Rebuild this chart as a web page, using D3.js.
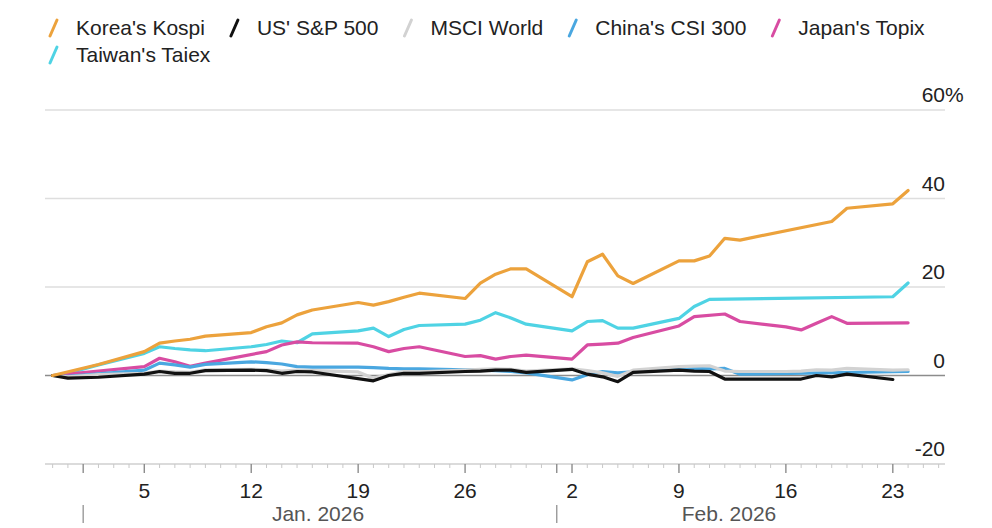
<!DOCTYPE html>
<html>
<head>
<meta charset="utf-8">
<script src="https://cdn.jsdelivr.net/npm/d3@7"></script>
<style>
  body { margin: 0; background: #fff; }
  svg { font-family: "Liberation Sans", Arial, sans-serif; }
  .legend_text { font-size: 21px; fill: #222; }
  .y_label { font-size: 21px; fill: #222; }
  .x_label { font-size: 21px; fill: #222; text-anchor: middle; }
  .month_label { font-size: 21px; fill: #555; text-anchor: middle; }
</style>
</head>
<body>
<div id="chart"></div>
<script>
// series, in legend order
let series_names = ["Korea's Kospi", "US' S&P 500", "MSCI World", "China's CSI 300", "Japan's Topix", "Taiwan's Taiex"];
let series_colors = ["#eca23c", "#111111", "#d2d2d2", "#4aa7e0", "#d84ca2", "#4fd3e4"];

// trading days per market
let kospi_dates = ["2025-12-30","2026-01-02","2026-01-05","2026-01-06","2026-01-07","2026-01-08","2026-01-09",
  "2026-01-12","2026-01-13","2026-01-14","2026-01-15","2026-01-16","2026-01-19","2026-01-20","2026-01-21",
  "2026-01-22","2026-01-23","2026-01-26","2026-01-27","2026-01-28","2026-01-29","2026-01-30","2026-02-02",
  "2026-02-03","2026-02-04","2026-02-05","2026-02-06","2026-02-09","2026-02-10","2026-02-11","2026-02-12",
  "2026-02-13","2026-02-19","2026-02-20","2026-02-23","2026-02-24"];
let kospi_values = [0, 2.5, 5.4, 7.3, 7.8, 8.2, 8.9, 9.7, 11.0, 11.9, 13.7, 14.8, 16.5, 15.9, 16.7,
  17.7, 18.6, 17.4, 20.9, 22.9, 24.1, 24.1, 17.8, 25.7, 27.4, 22.5, 20.8, 25.9, 25.9, 27.0, 31.0,
  30.6, 34.8, 37.8, 38.8, 41.8];

let spx_dates = ["2025-12-30","2025-12-31","2026-01-02","2026-01-05","2026-01-06","2026-01-07","2026-01-08",
  "2026-01-09","2026-01-12","2026-01-13","2026-01-14","2026-01-15","2026-01-16","2026-01-20","2026-01-21",
  "2026-01-22","2026-01-23","2026-01-26","2026-01-27","2026-01-28","2026-01-29","2026-01-30","2026-02-02",
  "2026-02-03","2026-02-04","2026-02-05","2026-02-06","2026-02-09","2026-02-10","2026-02-11","2026-02-12",
  "2026-02-13","2026-02-17","2026-02-18","2026-02-19","2026-02-20","2026-02-23"];
let spx_values = [0, -0.6, -0.4, 0.3, 0.9, 0.5, 0.5, 1.1, 1.2, 1.1, 0.5, 0.9, 0.8, -1.2, 0.0,
  0.5, 0.5, 0.9, 1.0, 1.2, 1.2, 0.7, 1.4, 0.3, -0.3, -1.4, 0.7, 1.2, 1.0, 0.9, -0.8,
  -0.8, -0.8, 0.0, -0.3, 0.3, -0.9];

let msci_dates = ["2025-12-30","2025-12-31","2026-01-02","2026-01-05","2026-01-06","2026-01-07","2026-01-08",
  "2026-01-09","2026-01-12","2026-01-13","2026-01-14","2026-01-15","2026-01-16","2026-01-19","2026-01-20",
  "2026-01-21","2026-01-22","2026-01-23","2026-01-26","2026-01-27","2026-01-28","2026-01-29","2026-01-30",
  "2026-02-02","2026-02-03","2026-02-04","2026-02-05","2026-02-06","2026-02-09","2026-02-10","2026-02-11",
  "2026-02-12","2026-02-13","2026-02-16","2026-02-17","2026-02-18","2026-02-19","2026-02-20","2026-02-23",
  "2026-02-24"];
let msci_values = [0, -0.3, 0.2, 0.5, 1.0, 0.8, 0.7, 1.3, 1.4, 1.3, 1.0, 1.2, 1.1, 0.8, -0.6,
  0.2, 0.9, 0.8, 1.2, 1.4, 1.5, 1.4, 1.0, 1.5, 1.1, 0.6, -0.2, 1.2, 2.0, 2.1, 2.2,
  1.0, 0.9, 0.9, 1.0, 1.3, 1.2, 1.6, 1.2, 1.3];

let csi_dates = ["2025-12-30","2025-12-31","2026-01-05","2026-01-06","2026-01-07","2026-01-08","2026-01-09",
  "2026-01-12","2026-01-13","2026-01-14","2026-01-15","2026-01-16","2026-01-19","2026-01-20","2026-01-21",
  "2026-01-22","2026-01-23","2026-01-26","2026-01-27","2026-01-28","2026-01-29","2026-01-30","2026-02-02",
  "2026-02-03","2026-02-04","2026-02-05","2026-02-06","2026-02-09","2026-02-10","2026-02-11","2026-02-12",
  "2026-02-13","2026-02-24"];
let csi_values = [0, -0.2, 1.2, 2.8, 2.4, 1.9, 2.5, 3.1, 2.9, 2.6, 2.0, 1.9, 1.9, 1.8, 1.6,
  1.5, 1.5, 1.3, 1.2, 1.1, 0.9, 0.6, -1.0, 0.2, 0.9, 0.6, 0.8, 1.6, 1.6, 1.5, 1.6,
  0.3, 0.9];

let topix_dates = ["2025-12-30","2026-01-05","2026-01-06","2026-01-07","2026-01-08","2026-01-09","2026-01-13",
  "2026-01-14","2026-01-15","2026-01-16","2026-01-19","2026-01-20","2026-01-21","2026-01-22","2026-01-23",
  "2026-01-26","2026-01-27","2026-01-28","2026-01-29","2026-01-30","2026-02-02","2026-02-03","2026-02-04",
  "2026-02-05","2026-02-06","2026-02-09","2026-02-10","2026-02-12","2026-02-13","2026-02-16","2026-02-17",
  "2026-02-18","2026-02-19","2026-02-20","2026-02-24"];
let topix_values = [0, 2.0, 3.9, 3.1, 2.1, 2.8, 5.4, 6.9, 7.6, 7.4, 7.3, 6.5, 5.4, 6.1, 6.5,
  4.3, 4.5, 3.7, 4.3, 4.6, 3.7, 6.9, 7.1, 7.3, 8.6, 11.2, 13.3, 13.9, 12.2, 11.0, 10.3,
  11.8, 13.3, 11.8, 11.9];

let taiex_dates = ["2025-12-30","2025-12-31","2026-01-02","2026-01-05","2026-01-06","2026-01-07","2026-01-08",
  "2026-01-09","2026-01-12","2026-01-13","2026-01-14","2026-01-15","2026-01-16","2026-01-19","2026-01-20",
  "2026-01-21","2026-01-22","2026-01-23","2026-01-26","2026-01-27","2026-01-28","2026-01-29","2026-01-30",
  "2026-02-02","2026-02-03","2026-02-04","2026-02-05","2026-02-06","2026-02-09","2026-02-10","2026-02-11",
  "2026-02-23","2026-02-24"];
let taiex_values = [0, 0.5, 2.4, 5.0, 6.5, 6.1, 5.8, 5.6, 6.5, 7.0, 7.8, 7.4, 9.4, 10.1, 10.7,
  8.8, 10.4, 11.3, 11.6, 12.5, 14.2, 13.0, 11.6, 10.1, 12.2, 12.4, 10.7, 10.7, 12.9, 15.6, 17.2,
  17.8, 20.9];

let y_ticks = [60, 40, 20, 0, -20];
let month_starts = ["2026-01-01", "2026-02-01"];
let month_labels = ["Jan. 2026", "Feb. 2026"];

let window_width = 992;
let window_height = 528;

let parse_date = d3.timeParse("%Y-%m-%d");

let all_dates = [kospi_dates, spx_dates, msci_dates, csi_dates, topix_dates, taiex_dates];
let all_values = [kospi_values, spx_values, msci_values, csi_values, topix_values, taiex_values];

function build_series(i) {
    return all_dates[i].map(function(d, j) {
        return {date: parse_date(d), value: all_values[i][j]};
    });
}

let svg = d3.select("#chart").append("svg")
    .attr("width", window_width)
    .attr("height", window_height);

let x = d3.scaleTime()
    .domain([new Date(2025, 11, 29, 12), new Date(2026, 1, 26, 10)])
    .range([45, 945]);

let y = d3.scaleLinear()
    .domain([-20, 60])
    .range([464, 110]);

// gridlines
svg.selectAll(".grid")
    .data(y_ticks.filter(function(t) { return t != -20; }))
    .enter()
    .append("line")
    .attr("x1", 45)
    .attr("x2", 945)
    .attr("y1", function(t) { return y(t); })
    .attr("y2", function(t) { return y(t); })
    .attr("stroke", function(t) { return t == 0 ? "#8c8c8c" : "#dedede"; })
    .attr("stroke-width", function(t) { return t == 0 ? 1.6 : 1.5; });

// numbers end at the right edge of the grid, the % hangs past it
let y_labels = svg.selectAll(".y_label")
    .data(y_ticks)
    .enter()
    .append("g");
y_labels.append("text")
    .classed("y_label", true)
    .attr("text-anchor", "end")
    .attr("x", 945)
    .attr("y", function(t) { return y(t) - 8; })
    .text(function(t) { return t; });
y_labels.filter(function(t) { return t == 60; })
    .append("text")
    .classed("y_label", true)
    .attr("x", 945)
    .attr("y", function(t) { return y(t) - 8; })
    .text("%");

// x axis: daily minor ticks, bigger ticks on mondays and month starts
let x_axis_g = svg.append("g");
x_axis_g.append("line")
    .attr("x1", 45).attr("x2", 945)
    .attr("y1", 464).attr("y2", 464)
    .attr("stroke", "#cfcfcf")
    .attr("stroke-width", 1.5);

let days = d3.timeDay.range(new Date(2025, 11, 30), new Date(2026, 1, 27));
function is_major(d) { return d.getDay() == 1 || d.getDate() == 1; }

x_axis_g.selectAll(".tick")
    .data(days)
    .enter()
    .append("line")
    .attr("x1", function(d) { return x(d); })
    .attr("x2", function(d) { return x(d); })
    .attr("y1", 464)
    .attr("y2", function(d) { return is_major(d) ? 473 : 468; })
    .attr("stroke", function(d) { return is_major(d) ? "#8c8c8c" : "#c8c8c8"; })
    .attr("stroke-width", function(d) { return is_major(d) ? 1.4 : 1; });

x_axis_g.selectAll(".x_label")
    .data(d3.timeMonday.range(new Date(2026, 0, 2), new Date(2026, 1, 26)))
    .enter()
    .append("text")
    .classed("x_label", true)
    .attr("x", function(d) { return x(d); })
    .attr("y", 498)
    .text(function(d) { return d.getDate(); });

x_axis_g.selectAll(".month_tick")
    .data(month_starts)
    .enter()
    .append("line")
    .attr("x1", function(d) { return x(parse_date(d)); })
    .attr("x2", function(d) { return x(parse_date(d)); })
    .attr("y1", 505)
    .attr("y2", 523)
    .attr("stroke", "#9a9a9a")
    .attr("stroke-width", 1.4);

x_axis_g.selectAll(".month_label")
    .data(month_labels)
    .enter()
    .append("text")
    .classed("month_label", true)
    .attr("x", function(d, i) { return i == 0 ? 318 : 729; })
    .attr("y", 521)
    .text(function(d) { return d; });

// lines, drawn back to front
let line = d3.line()
    .x(function(d) { return x(d.date); })
    .y(function(d) { return y(d.value); });

let draw_order = [5, 4, 3, 2, 1, 0];
for (let k = 0; k < draw_order.length; k++) {
    let i = draw_order[k];
    svg.append("path")
        .datum(build_series(i))
        .attr("fill", "none")
        .attr("stroke", series_colors[i])
        .attr("stroke-width", 3.2)
        .attr("stroke-linejoin", "round")
        .attr("stroke-linecap", "round")
        .attr("d", line);
}

// legend, flows left to right and wraps
let legend = svg.append("g");
let lx = 50;
let ly = 28;
for (let i = 0; i < series_names.length; i++) {
    let item = legend.append("g");
    item.append("line")
        .attr("x1", 0).attr("y1", 8)
        .attr("x2", 7).attr("y2", -8)
        .attr("stroke", series_colors[i])
        .attr("stroke-width", 3)
        .attr("stroke-linecap", "round");
    let txt = item.append("text")
        .classed("legend_text", true)
        .attr("x", 26)
        .attr("y", 7)
        .text(series_names[i]);
    let w = 26 + txt.node().getComputedTextLength();
    if (lx + w > 945) {
        lx = 50;
        ly += 27;
    }
    item.attr("transform", "translate(" + lx + "," + ly + ")");
    lx += w + 26;
}
</script>
</body>
</html>
